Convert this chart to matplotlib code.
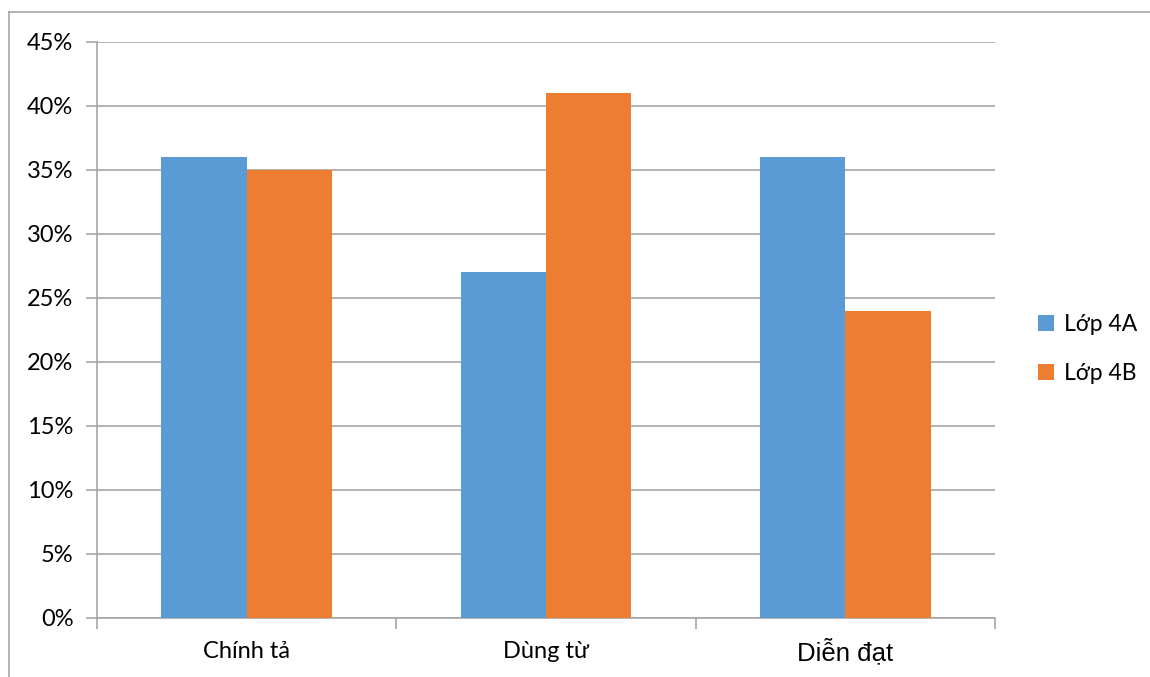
import matplotlib
matplotlib.use("Agg")
import matplotlib.pyplot as plt
from matplotlib.lines import Line2D
from matplotlib.patches import Patch
import numpy as np

categories = ["Chính tả", "Dùng từ", "Diễn đạt"]
series_names = ["Lớp 4A", "Lớp 4B"]
lop_4a = [0.36, 0.27, 0.36]
lop_4b = [0.35, 0.41, 0.24]
y_ticks = [0.00, 0.05, 0.10, 0.15, 0.20, 0.25, 0.30, 0.35, 0.40, 0.45]
y_tick_labels = ["0%", "5%", "10%", "15%", "20%", "25%", "30%", "35%", "40%", "45%"]

blue = "#5B9BD5"
orange = "#ED7D31"
grid_gray = "#A6A6A6"
main_font = ["Lato", "DejaVu Sans"]

W, H = 1150, 677
fig = plt.figure(figsize=(W / 100, H / 100), dpi=100)
ax = fig.add_axes([97 / W, 1 - 618 / H, (995 - 97) / W, (618 - 42) / H])

x = np.arange(len(categories))
bw = 0.285
ax.bar(x - bw / 2, lop_4a, width=bw, color=blue, zorder=3, label=series_names[0])
ax.bar(x + bw / 2, lop_4b, width=bw, color=orange, zorder=3, label=series_names[1])

ax.set_xlim(-0.5, len(categories) - 0.5)
ax.set_ylim(0, 0.45)
ax.set_yticks(y_ticks)
ax.set_yticklabels(y_tick_labels, fontsize=17, family=main_font, color="#000000")
ax.yaxis.grid(True, color=grid_gray, linewidth=1.2, zorder=0)
ax.tick_params(axis="y", length=8, color=grid_gray, width=1.2, pad=9)

# category ticks sit on the group boundaries; names are drawn under each group
ax.set_xticks(np.arange(-0.5, len(categories), 1.0))
ax.set_xticklabels([])
ax.tick_params(axis="x", which="major", length=8, color=grid_gray, width=1.2)
for i, name in enumerate(categories):
    if i == 2:
        fam, size = ["Liberation Sans", "DejaVu Sans"], 18.5
    else:
        fam, size = main_font, 17
    ax.annotate(name, xy=(x[i], 0), xycoords=("data", "axes fraction"),
                xytext=(0, -34), textcoords="offset pixels",
                ha="center", va="center", family=fam, fontsize=size)

for side in ["top", "right"]:
    ax.spines[side].set_visible(False)
ax.spines["left"].set_color(grid_gray)
ax.spines["bottom"].set_color(grid_gray)
ax.spines["left"].set_linewidth(1.2)
ax.spines["bottom"].set_linewidth(1.2)

handles = [Patch(facecolor=blue, label=series_names[0]),
           Patch(facecolor=orange, label=series_names[1])]
fig.legend(handles=handles, loc="center left",
           bbox_to_anchor=(1017 / W, 1 - 349 / H),
           frameon=False, prop={"family": main_font, "size": 16.5},
           handlelength=0.7, handleheight=0.7, handletextpad=0.45,
           labelspacing=1.2)

# outer chart frame
fig.add_artist(Line2D([9 / W, 1.0], [1 - 12 / H, 1 - 12 / H],
                      transform=fig.transFigure, color=grid_gray, linewidth=1.2))
fig.add_artist(Line2D([9 / W, 9 / W], [0, 1 - 12 / H],
                      transform=fig.transFigure, color=grid_gray, linewidth=1.2))

fig.savefig("out.png", dpi=100)
